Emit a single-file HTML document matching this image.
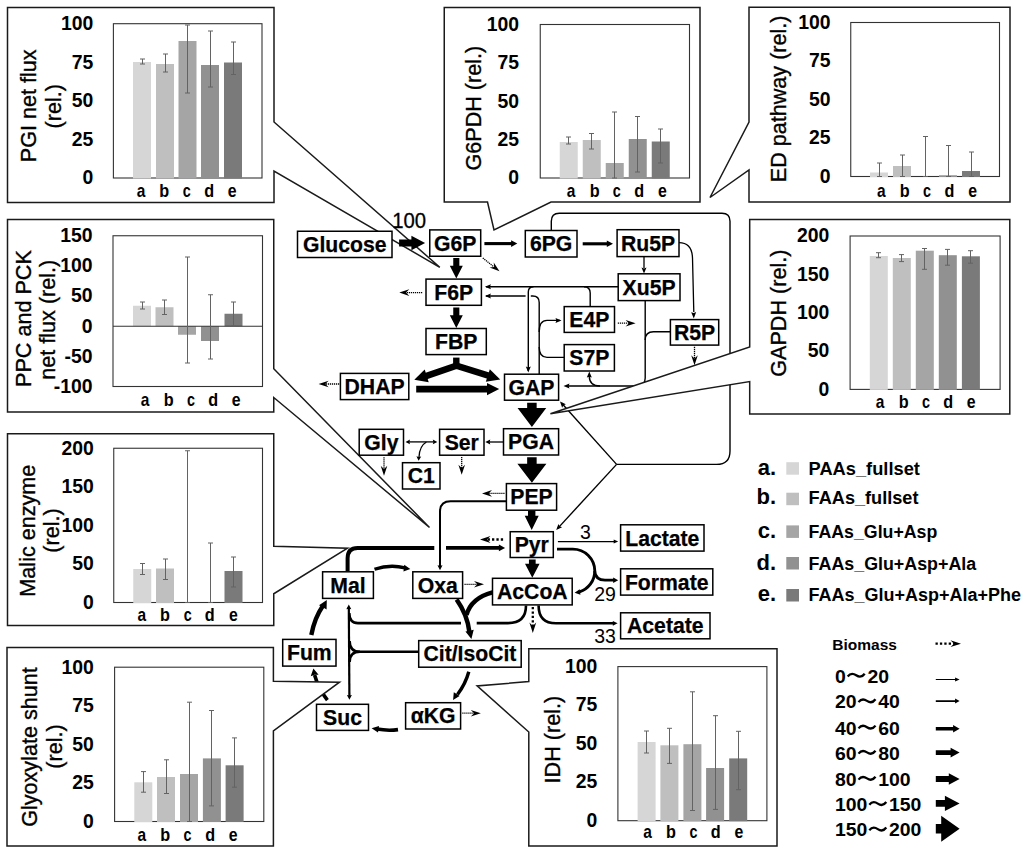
<!DOCTYPE html><html><head><meta charset="utf-8"><style>
html,body{margin:0;padding:0;background:#fff;}
svg{display:block;}
text{font-family:"Liberation Sans",sans-serif;}
.tk{font-weight:bold;font-size:19.4px;}
.cat{font-weight:bold;font-size:18px;}
.yl{font-size:21.6px;stroke:#000;stroke-width:0.35px;}
.bx{font-weight:bold;stroke:#000;stroke-width:0.25px;}
.num{font-size:19.5px;}
.lgl{font-weight:bold;font-size:22px;}
.lgt{font-weight:bold;font-size:18px;}
.bio{font-weight:bold;font-size:15.5px;}
.rng{font-weight:bold;font-size:19.2px;}
</style></head><body><svg width="1024" height="854" viewBox="0 0 1024 854">
<rect width="1024" height="854" fill="#fff"/>
<path d="M551.3,230.5 V221.2 Q551.3,213.2 559.3,213.2 H722 Q730,213.2 730,221.2 V451 Q730,464.4 716.6,464.4 H616.6" fill="none" stroke="#000" stroke-width="1.4" />
<path d="M616.6,464.4 L561.5,403" fill="none" stroke="#000" stroke-width="1.4" />
<polygon points="560,401.5 565.87,404.29 563.41,405.29 562.16,407.63" fill="#000"/>
<path d="M616.6,464.4 L557.5,528.6" fill="none" stroke="#000" stroke-width="1.4" />
<polygon points="556.2,530 558.42,523.89 559.65,526.25 562.1,527.28" fill="#000"/>
<path d="M618.2,286.7 H486" fill="none" stroke="#000" stroke-width="1.4" />
<polygon points="484.9,286.7 490.9,284.2 490,286.7 490.9,289.2" fill="#000"/>
<path d="M533.5,286.7 Q528.3,286.7 528.3,292 V371" fill="none" stroke="#000" stroke-width="1.4" />
<polygon points="528.3,372.5 525.8,366.5 528.3,367.4 530.8,366.5" fill="#000"/>
<path d="M584,286.7 Q590.2,286.7 590.2,293 V306.6" fill="none" stroke="#000" stroke-width="1.4" />
<path d="M539.2,374.2 V302.5 Q539.2,296 532.7,296 H530.8" fill="none" stroke="#000" stroke-width="1.4" />
<path d="M525.6,296 H486" fill="none" stroke="#000" stroke-width="1.4" />
<polygon points="484.9,296 490.9,293.5 490,296 490.9,298.5" fill="#000"/>
<path d="M539.2,332 Q539.2,320.4 547,320.4 H560" fill="none" stroke="#000" stroke-width="1.4" />
<polygon points="561.5,320.4 555.5,322.9 556.4,320.4 555.5,317.9" fill="#000"/>
<path d="M564.2,357.4 H547 Q539.2,357.4 539.2,347" fill="none" stroke="#000" stroke-width="1.4" />
<path d="M645.2,300.6 V378 Q645.2,386 637.2,386 H566" fill="none" stroke="#000" stroke-width="1.4" />
<polygon points="563.5,386 569.5,383.5 568.6,386 569.5,388.5" fill="#000"/>
<path d="M670.4,331.8 H653.5 Q645.2,331.8 645.2,340" fill="none" stroke="#000" stroke-width="1.4" />
<path d="M600,386 Q589.3,386 589.3,376" fill="none" stroke="#000" stroke-width="1.4" />
<polygon points="589.3,371.6 591.8,377.6 589.3,376.7 586.8,377.6" fill="#000"/>
<path d="M644,256.6 V268" fill="none" stroke="#000" stroke-width="1.3" />
<polygon points="644,273.5 641.5,267.5 644,268.4 646.5,267.5" fill="#000"/>
<path d="M679,242.6 Q692,242.6 692.5,258 L693.8,312" fill="none" stroke="#000" stroke-width="1.3" />
<polygon points="693.8,318.6 691.17,312.15 693.69,313.08 696.17,312.05" fill="#000"/>
<path d="M327.4,700.2 Q318.5,689 314.6,675" fill="none" stroke="#000" stroke-width="3.6" />
<polygon points="313.4,668.6 318.58,674.78 314.52,674.8 310.7,676.2" fill="#000"/>
<path d="M7.5,7.5 L274,7.5 L274,122 L439.8,267.3 L274,171 L274,202.5 L7.5,202.5 Z" fill="#fff" stroke="#1a1a1a" stroke-width="1.5" stroke-linejoin="miter"/>
<rect x="113.4" y="23.7" width="148.6" height="154.3" fill="none" stroke="#333333" stroke-width="1.1"/>
<rect x="133" y="62" width="18" height="116.5" fill="#d6d6d6"/>
<rect x="156" y="64" width="18" height="114.5" fill="#bfbfbf"/>
<rect x="178.5" y="41" width="18" height="137.5" fill="#a5a5a5"/>
<rect x="201" y="65" width="18" height="113.5" fill="#919191"/>
<rect x="224" y="62.5" width="18" height="116" fill="#7a7a7a"/>
<path d="M142.5,59 V64 M140,59 h5 M140,64 h5" stroke="#636363" stroke-width="1" fill="none"/>
<path d="M165.5,54 V72 M163,54 h5 M163,72 h5" stroke="#636363" stroke-width="1" fill="none"/>
<path d="M187.5,25 V93 M185,25 h5 M185,93 h5" stroke="#636363" stroke-width="1" fill="none"/>
<path d="M210.5,31 V87 M208,31 h5 M208,87 h5" stroke="#636363" stroke-width="1" fill="none"/>
<path d="M233.5,42 V74.5 M231,42 h5 M231,74.5 h5" stroke="#636363" stroke-width="1" fill="none"/>
<text x="93.3" y="30" text-anchor="end" class="tk">100</text>
<text x="93.3" y="68.58" text-anchor="end" class="tk">75</text>
<text x="93.3" y="107.15" text-anchor="end" class="tk">50</text>
<text x="93.3" y="145.73" text-anchor="end" class="tk">25</text>
<text x="93.3" y="184.3" text-anchor="end" class="tk">0</text>
<text transform="translate(141.05,197.1) scale(0.86,1)" text-anchor="middle" class="cat">a</text>
<text transform="translate(164.3,197.1) scale(0.9,1)" text-anchor="middle" class="cat">b</text>
<text transform="translate(186.8,197.1) scale(0.8,1)" text-anchor="middle" class="cat">c</text>
<text transform="translate(209.1,197.1) scale(0.9,1)" text-anchor="middle" class="cat">d</text>
<text transform="translate(232.2,197.1) scale(0.88,1)" text-anchor="middle" class="cat">e</text>
<text transform="translate(36,105.85) rotate(-90)" text-anchor="middle" class="yl">PGI net flux</text>
<text transform="translate(61.4,106.25) rotate(-90)" text-anchor="middle" class="yl">(rel.)</text>
<path d="M444.25,7.5 L700,7.5 L700,202 L551,202 L494,230 L487.5,202 L444.25,202 Z" fill="#fff" stroke="#1a1a1a" stroke-width="1.5" stroke-linejoin="miter"/>
<rect x="540.25" y="24.5" width="149.25" height="153.5" fill="none" stroke="#333333" stroke-width="1.1"/>
<rect x="559.75" y="142" width="18" height="36.5" fill="#d6d6d6"/>
<rect x="582.75" y="140" width="18" height="38.5" fill="#bfbfbf"/>
<rect x="605.75" y="163" width="18" height="15.5" fill="#a5a5a5"/>
<rect x="628.75" y="139" width="18" height="39.5" fill="#919191"/>
<rect x="651.75" y="141.5" width="18" height="37" fill="#7a7a7a"/>
<path d="M568.5,137 V144 M566,137 h5 M566,144 h5" stroke="#636363" stroke-width="1" fill="none"/>
<path d="M591.5,133.5 V149 M589,133.5 h5 M589,149 h5" stroke="#636363" stroke-width="1" fill="none"/>
<path d="M614.5,112 V178 M612,112 h5 M612,178 h5" stroke="#636363" stroke-width="1" fill="none"/>
<path d="M637.5,116.5 V172 M635,116.5 h5 M635,172 h5" stroke="#636363" stroke-width="1" fill="none"/>
<path d="M660.5,129 V163 M658,129 h5 M658,163 h5" stroke="#636363" stroke-width="1" fill="none"/>
<text x="519" y="30.8" text-anchor="end" class="tk">100</text>
<text x="519" y="69.17" text-anchor="end" class="tk">75</text>
<text x="519" y="107.55" text-anchor="end" class="tk">50</text>
<text x="519" y="145.93" text-anchor="end" class="tk">25</text>
<text x="519" y="184.3" text-anchor="end" class="tk">0</text>
<text transform="translate(571,197.1) scale(0.86,1)" text-anchor="middle" class="cat">a</text>
<text transform="translate(594.6,197.1) scale(0.9,1)" text-anchor="middle" class="cat">b</text>
<text transform="translate(616.8,197.1) scale(0.8,1)" text-anchor="middle" class="cat">c</text>
<text transform="translate(639.3,197.1) scale(0.9,1)" text-anchor="middle" class="cat">d</text>
<text transform="translate(662.3,197.1) scale(0.88,1)" text-anchor="middle" class="cat">e</text>
<text transform="translate(481.3,108.15) rotate(-90)" text-anchor="middle" class="yl">G6PDH (rel.)</text>
<path d="M749,7.2 L1010,7.2 L1010,202 L749,202 L749,170 L710,197.5 L749,122 Z" fill="#fff" stroke="#1a1a1a" stroke-width="1.5" stroke-linejoin="miter"/>
<rect x="850.75" y="22.5" width="148.75" height="154" fill="none" stroke="#333333" stroke-width="1.1"/>
<rect x="870" y="172.5" width="18" height="4.5" fill="#d6d6d6"/>
<rect x="893" y="166" width="18" height="11" fill="#bfbfbf"/>
<rect x="939" y="175.3" width="18" height="1.7" fill="#919191"/>
<rect x="962" y="171" width="18" height="6" fill="#7a7a7a"/>
<path d="M879.5,163 V176.5 M877,163 h5 M877,176.5 h5" stroke="#636363" stroke-width="1" fill="none"/>
<path d="M902.5,155 V176.5 M900,155 h5 M900,176.5 h5" stroke="#636363" stroke-width="1" fill="none"/>
<path d="M925.5,136.5 V176.5 M923,136.5 h5 M923,176.5 h5" stroke="#636363" stroke-width="1" fill="none"/>
<path d="M948.5,145.5 V176.5 M946,145.5 h5 M946,176.5 h5" stroke="#636363" stroke-width="1" fill="none"/>
<path d="M971.5,152 V176.5 M969,152 h5 M969,176.5 h5" stroke="#636363" stroke-width="1" fill="none"/>
<text x="830.5" y="28.8" text-anchor="end" class="tk">100</text>
<text x="830.5" y="67.3" text-anchor="end" class="tk">75</text>
<text x="830.5" y="105.8" text-anchor="end" class="tk">50</text>
<text x="830.5" y="144.3" text-anchor="end" class="tk">25</text>
<text x="830.5" y="182.8" text-anchor="end" class="tk">0</text>
<text transform="translate(881.4,197) scale(0.86,1)" text-anchor="middle" class="cat">a</text>
<text transform="translate(904.7,197) scale(0.9,1)" text-anchor="middle" class="cat">b</text>
<text transform="translate(927,197) scale(0.8,1)" text-anchor="middle" class="cat">c</text>
<text transform="translate(949.5,197) scale(0.9,1)" text-anchor="middle" class="cat">d</text>
<text transform="translate(972.6,197) scale(0.88,1)" text-anchor="middle" class="cat">e</text>
<text transform="translate(786.3,98.85) rotate(-90)" text-anchor="middle" class="yl">ED pathway (rel.)</text>
<path d="M7.5,219.5 L273.75,219.5 L273.75,368.75 L429.5,527.5 L273.75,397.5 L273.75,412 L7.5,412 Z" fill="#fff" stroke="#1a1a1a" stroke-width="1.5" stroke-linejoin="miter"/>
<rect x="113" y="235.75" width="149.5" height="150.75" fill="none" stroke="#333333" stroke-width="1.1"/>
<rect x="133" y="305.75" width="18" height="20.5" fill="#d6d6d6"/>
<rect x="155.5" y="307.25" width="18" height="19" fill="#bfbfbf"/>
<rect x="178" y="326.25" width="18" height="8.5" fill="#a5a5a5"/>
<rect x="201" y="326.25" width="18" height="14.75" fill="#919191"/>
<rect x="224.5" y="313.75" width="18" height="12.5" fill="#7a7a7a"/>
<line x1="113" y1="326.25" x2="262.5" y2="326.25" stroke="#333333" stroke-width="1.1"/>
<path d="M142.5,302 V309 M140,302 h5 M140,309 h5" stroke="#636363" stroke-width="1" fill="none"/>
<path d="M164.5,300 V314.5 M162,300 h5 M162,314.5 h5" stroke="#636363" stroke-width="1" fill="none"/>
<path d="M187.5,257 V363 M185,257 h5 M185,363 h5" stroke="#636363" stroke-width="1" fill="none"/>
<path d="M210.5,294.75 V359 M208,294.75 h5 M208,359 h5" stroke="#636363" stroke-width="1" fill="none"/>
<path d="M233.5,302 V326 M231,302 h5 M231,326 h5" stroke="#636363" stroke-width="1" fill="none"/>
<text x="92.5" y="242.05" text-anchor="end" class="tk">150</text>
<text x="92.5" y="272.2" text-anchor="end" class="tk">100</text>
<text x="92.5" y="302.35" text-anchor="end" class="tk">50</text>
<text x="92.5" y="332.5" text-anchor="end" class="tk">0</text>
<text x="92.5" y="362.65" text-anchor="end" class="tk">-50</text>
<text x="92.5" y="392.8" text-anchor="end" class="tk">-100</text>
<text transform="translate(145,406.4) scale(0.86,1)" text-anchor="middle" class="cat">a</text>
<text transform="translate(168.8,406.4) scale(0.9,1)" text-anchor="middle" class="cat">b</text>
<text transform="translate(191,406.4) scale(0.8,1)" text-anchor="middle" class="cat">c</text>
<text transform="translate(213.2,406.4) scale(0.9,1)" text-anchor="middle" class="cat">d</text>
<text transform="translate(236.2,406.4) scale(0.88,1)" text-anchor="middle" class="cat">e</text>
<text transform="translate(30.6,318.6) rotate(-90)" text-anchor="middle" class="yl">PPC and PCK</text>
<text transform="translate(55,319.7) rotate(-90)" text-anchor="middle" class="yl">net flux (rel.)</text>
<path d="M749.7,219.4 L1009.8,219.4 L1009.8,414.1 L749.7,414.1 L749.7,381.6 L550.4,413.8 L749.7,347 Z" fill="#fff" stroke="#1a1a1a" stroke-width="1.5" stroke-linejoin="miter"/>
<rect x="850.1" y="236" width="150" height="153.4" fill="none" stroke="#333333" stroke-width="1.1"/>
<rect x="869.8" y="256" width="18" height="133.9" fill="#d6d6d6"/>
<rect x="892.8" y="258" width="18" height="131.9" fill="#bfbfbf"/>
<rect x="915.8" y="250.7" width="18" height="139.2" fill="#a5a5a5"/>
<rect x="938.8" y="255.2" width="18" height="134.7" fill="#919191"/>
<rect x="961.9" y="256.3" width="18" height="133.6" fill="#7a7a7a"/>
<path d="M878.5,252.7 V257.7 M876,252.7 h5 M876,257.7 h5" stroke="#636363" stroke-width="1" fill="none"/>
<path d="M901.5,254.6 V261.6 M899,254.6 h5 M899,261.6 h5" stroke="#636363" stroke-width="1" fill="none"/>
<path d="M924.5,248.5 V269.3 M922,248.5 h5 M922,269.3 h5" stroke="#636363" stroke-width="1" fill="none"/>
<path d="M947.5,249.4 V265.2 M945,249.4 h5 M945,265.2 h5" stroke="#636363" stroke-width="1" fill="none"/>
<path d="M970.5,250.7 V263.2 M968,250.7 h5 M968,263.2 h5" stroke="#636363" stroke-width="1" fill="none"/>
<text x="829.3" y="242.3" text-anchor="end" class="tk">200</text>
<text x="829.3" y="280.65" text-anchor="end" class="tk">150</text>
<text x="829.3" y="319" text-anchor="end" class="tk">100</text>
<text x="829.3" y="357.35" text-anchor="end" class="tk">50</text>
<text x="829.3" y="395.7" text-anchor="end" class="tk">0</text>
<text transform="translate(880,407.9) scale(0.86,1)" text-anchor="middle" class="cat">a</text>
<text transform="translate(903.7,407.9) scale(0.9,1)" text-anchor="middle" class="cat">b</text>
<text transform="translate(926,407.9) scale(0.8,1)" text-anchor="middle" class="cat">c</text>
<text transform="translate(948.2,407.9) scale(0.9,1)" text-anchor="middle" class="cat">d</text>
<text transform="translate(971.2,407.9) scale(0.88,1)" text-anchor="middle" class="cat">e</text>
<text transform="translate(786.2,313.2) rotate(-90)" text-anchor="middle" class="yl">GAPDH (rel.)</text>
<path d="M7.5,433.75 L273.75,433.75 L273.75,546.25 L347.5,548.25 L273.75,593.75 L273.75,625.5 L7.5,625.5 Z" fill="#fff" stroke="#1a1a1a" stroke-width="1.5" stroke-linejoin="miter"/>
<rect x="113.75" y="448.25" width="148.75" height="154.25" fill="none" stroke="#333333" stroke-width="1.1"/>
<rect x="133.25" y="569" width="18" height="34" fill="#d6d6d6"/>
<rect x="156" y="568.5" width="18" height="34.5" fill="#bfbfbf"/>
<rect x="224.5" y="571" width="18" height="32" fill="#7a7a7a"/>
<path d="M142.5,563.5 V574.5 M140,563.5 h5 M140,574.5 h5" stroke="#636363" stroke-width="1" fill="none"/>
<path d="M165.5,559 V579.5 M163,559 h5 M163,579.5 h5" stroke="#636363" stroke-width="1" fill="none"/>
<path d="M187.5,450.75 V602.5 M185,450.75 h5 M185,602.5 h5" stroke="#636363" stroke-width="1" fill="none"/>
<path d="M210.5,543 V602.5 M208,543 h5 M208,602.5 h5" stroke="#636363" stroke-width="1" fill="none"/>
<path d="M233.5,557 V587 M231,557 h5 M231,587 h5" stroke="#636363" stroke-width="1" fill="none"/>
<text x="93.75" y="454.55" text-anchor="end" class="tk">200</text>
<text x="93.75" y="493.11" text-anchor="end" class="tk">150</text>
<text x="93.75" y="531.67" text-anchor="end" class="tk">100</text>
<text x="93.75" y="570.24" text-anchor="end" class="tk">50</text>
<text x="93.75" y="608.8" text-anchor="end" class="tk">0</text>
<text transform="translate(141.7,621.3) scale(0.86,1)" text-anchor="middle" class="cat">a</text>
<text transform="translate(165,621.3) scale(0.9,1)" text-anchor="middle" class="cat">b</text>
<text transform="translate(187.8,621.3) scale(0.8,1)" text-anchor="middle" class="cat">c</text>
<text transform="translate(209.8,621.3) scale(0.9,1)" text-anchor="middle" class="cat">d</text>
<text transform="translate(233.3,621.3) scale(0.88,1)" text-anchor="middle" class="cat">e</text>
<text transform="translate(34.6,530.65) rotate(-90)" text-anchor="middle" class="yl">Malic enzyme</text>
<text transform="translate(59.1,530.45) rotate(-90)" text-anchor="middle" class="yl">(rel.)</text>
<path d="M7,647.4 L273.4,647.4 L273.4,681.2 L339.5,682.2 L273.4,731 L273.4,846.1 L7,846.1 Z" fill="#fff" stroke="#1a1a1a" stroke-width="1.5" stroke-linejoin="miter"/>
<rect x="114.6" y="667.2" width="149.2" height="154.3" fill="none" stroke="#333333" stroke-width="1.1"/>
<rect x="134.3" y="782.3" width="18" height="39.7" fill="#d6d6d6"/>
<rect x="157" y="777" width="18" height="45" fill="#bfbfbf"/>
<rect x="180" y="774" width="18" height="48" fill="#a5a5a5"/>
<rect x="202.9" y="758.4" width="18" height="63.6" fill="#919191"/>
<rect x="225.6" y="765.3" width="18" height="56.7" fill="#7a7a7a"/>
<path d="M143.5,771.6 V792.2 M141,771.6 h5 M141,792.2 h5" stroke="#636363" stroke-width="1" fill="none"/>
<path d="M166.5,759.8 V793.5 M164,759.8 h5 M164,793.5 h5" stroke="#636363" stroke-width="1" fill="none"/>
<path d="M189.5,702.2 V821.5 M187,702.2 h5 M187,821.5 h5" stroke="#636363" stroke-width="1" fill="none"/>
<path d="M211.5,710.5 V805.9 M209,710.5 h5 M209,805.9 h5" stroke="#636363" stroke-width="1" fill="none"/>
<path d="M234.5,737.9 V787.2 M232,737.9 h5 M232,787.2 h5" stroke="#636363" stroke-width="1" fill="none"/>
<text x="93.75" y="673.5" text-anchor="end" class="tk">100</text>
<text x="93.75" y="712.08" text-anchor="end" class="tk">75</text>
<text x="93.75" y="750.65" text-anchor="end" class="tk">50</text>
<text x="93.75" y="789.22" text-anchor="end" class="tk">25</text>
<text x="93.75" y="827.8" text-anchor="end" class="tk">0</text>
<text transform="translate(141.7,840.7) scale(0.86,1)" text-anchor="middle" class="cat">a</text>
<text transform="translate(165.3,840.7) scale(0.9,1)" text-anchor="middle" class="cat">b</text>
<text transform="translate(187.6,840.7) scale(0.8,1)" text-anchor="middle" class="cat">c</text>
<text transform="translate(210.1,840.7) scale(0.9,1)" text-anchor="middle" class="cat">d</text>
<text transform="translate(233.2,840.7) scale(0.88,1)" text-anchor="middle" class="cat">e</text>
<text transform="translate(36.6,747.05) rotate(-90)" text-anchor="middle" class="yl">Glyoxylate shunt</text>
<text transform="translate(62,746.5) rotate(-90)" text-anchor="middle" class="yl">(rel.)</text>
<path d="M528.8,648.8 L777,648.8 L777,846 L528.8,846 L528.8,732 L477.1,685.9 L528.8,681.6 Z" fill="#fff" stroke="#1a1a1a" stroke-width="1.5" stroke-linejoin="miter"/>
<rect x="617.9" y="666.6" width="149" height="154.1" fill="none" stroke="#333333" stroke-width="1.1"/>
<rect x="637.6" y="742" width="18" height="79.2" fill="#d6d6d6"/>
<rect x="660.4" y="745.3" width="18" height="75.9" fill="#bfbfbf"/>
<rect x="683.4" y="744.2" width="18" height="77" fill="#a5a5a5"/>
<rect x="706.1" y="768" width="18" height="53.2" fill="#919191"/>
<rect x="729.2" y="758.4" width="18" height="62.8" fill="#7a7a7a"/>
<path d="M646.5,731 V753 M644,731 h5 M644,753 h5" stroke="#636363" stroke-width="1" fill="none"/>
<path d="M669.5,728.3 V763.4 M667,728.3 h5 M667,763.4 h5" stroke="#636363" stroke-width="1" fill="none"/>
<path d="M692.5,691.8 V810.5 M690,691.8 h5 M690,810.5 h5" stroke="#636363" stroke-width="1" fill="none"/>
<path d="M715.5,715.7 V809.4 M713,715.7 h5 M713,809.4 h5" stroke="#636363" stroke-width="1" fill="none"/>
<path d="M738.5,731.3 V789.7 M736,731.3 h5 M736,789.7 h5" stroke="#636363" stroke-width="1" fill="none"/>
<text x="597.3" y="672.9" text-anchor="end" class="tk">100</text>
<text x="597.3" y="711.42" text-anchor="end" class="tk">75</text>
<text x="597.3" y="749.95" text-anchor="end" class="tk">50</text>
<text x="597.3" y="788.48" text-anchor="end" class="tk">25</text>
<text x="597.3" y="827" text-anchor="end" class="tk">0</text>
<text transform="translate(647.6,838.3) scale(0.86,1)" text-anchor="middle" class="cat">a</text>
<text transform="translate(671,838.3) scale(0.9,1)" text-anchor="middle" class="cat">b</text>
<text transform="translate(693.6,838.3) scale(0.8,1)" text-anchor="middle" class="cat">c</text>
<text transform="translate(715.8,838.3) scale(0.9,1)" text-anchor="middle" class="cat">d</text>
<text transform="translate(739,838.3) scale(0.88,1)" text-anchor="middle" class="cat">e</text>
<text transform="translate(560.1,739.6) rotate(-90)" text-anchor="middle" class="yl">IDH (rel.)</text>
<rect x="297.5" y="231.25" width="94.5" height="26.25" fill="#fff" stroke="#000" stroke-width="1.5"/>
<text x="344.75" y="251.96" text-anchor="middle" class="bx" style="font-size:21.2px">Glucose</text>
<rect x="429.75" y="229.9" width="50.95" height="26.35" fill="#fff" stroke="#000" stroke-width="1.5"/>
<text x="455.23" y="250.66" text-anchor="middle" class="bx" style="font-size:21.2px">G6P</text>
<rect x="525.3" y="230.5" width="51.7" height="26.5" fill="#fff" stroke="#000" stroke-width="1.5"/>
<text x="551.15" y="251.34" text-anchor="middle" class="bx" style="font-size:21.2px">6PG</text>
<rect x="617.1" y="229.7" width="61.9" height="26.9" fill="#fff" stroke="#000" stroke-width="1.5"/>
<text x="648.05" y="250.74" text-anchor="middle" class="bx" style="font-size:21.2px">Ru5P</text>
<rect x="426" y="279.1" width="55.4" height="26.2" fill="#fff" stroke="#000" stroke-width="1.5"/>
<text x="453.7" y="299.79" text-anchor="middle" class="bx" style="font-size:21.2px">F6P</text>
<rect x="618.2" y="273.8" width="61.8" height="26.8" fill="#fff" stroke="#000" stroke-width="1.5"/>
<text x="649.1" y="294.79" text-anchor="middle" class="bx" style="font-size:21.2px">Xu5P</text>
<rect x="426" y="328.5" width="60.3" height="26.1" fill="#fff" stroke="#000" stroke-width="1.5"/>
<text x="456.15" y="349.14" text-anchor="middle" class="bx" style="font-size:21.2px">FBP</text>
<rect x="564.2" y="306.6" width="50.3" height="25.8" fill="#fff" stroke="#000" stroke-width="1.5"/>
<text x="589.35" y="327.09" text-anchor="middle" class="bx" style="font-size:21.2px">E4P</text>
<rect x="564.2" y="344.6" width="50.2" height="26.4" fill="#fff" stroke="#000" stroke-width="1.5"/>
<text x="589.3" y="365.39" text-anchor="middle" class="bx" style="font-size:21.2px">S7P</text>
<rect x="670.4" y="319.6" width="48.3" height="25.5" fill="#fff" stroke="#000" stroke-width="1.5"/>
<text x="694.55" y="339.94" text-anchor="middle" class="bx" style="font-size:21.2px">R5P</text>
<rect x="340.4" y="373.4" width="68.4" height="26.2" fill="#fff" stroke="#000" stroke-width="1.5"/>
<text x="374.6" y="394.09" text-anchor="middle" class="bx" style="font-size:21.2px">DHAP</text>
<rect x="504.5" y="374.2" width="54.1" height="26" fill="#fff" stroke="#000" stroke-width="1.5"/>
<text x="531.55" y="394.79" text-anchor="middle" class="bx" style="font-size:21.2px">GAP</text>
<rect x="359.2" y="429.3" width="44.3" height="25.9" fill="#fff" stroke="#000" stroke-width="1.5"/>
<text x="381.35" y="449.84" text-anchor="middle" class="bx" style="font-size:21.2px">Gly</text>
<rect x="439.6" y="429.3" width="44.4" height="25.9" fill="#fff" stroke="#000" stroke-width="1.5"/>
<text x="461.8" y="449.84" text-anchor="middle" class="bx" style="font-size:21.2px">Ser</text>
<rect x="503.5" y="428.7" width="55.1" height="26.3" fill="#fff" stroke="#000" stroke-width="1.5"/>
<text x="531.05" y="449.44" text-anchor="middle" class="bx" style="font-size:21.2px">PGA</text>
<rect x="402.5" y="462.7" width="37.5" height="26.3" fill="#fff" stroke="#000" stroke-width="1.5"/>
<text x="421.25" y="483.44" text-anchor="middle" class="bx" style="font-size:21.2px">C1</text>
<rect x="506.4" y="483.6" width="50.2" height="26.6" fill="#fff" stroke="#000" stroke-width="1.5"/>
<text x="531.5" y="504.49" text-anchor="middle" class="bx" style="font-size:21.2px">PEP</text>
<rect x="510.2" y="531.7" width="43.1" height="25.8" fill="#fff" stroke="#000" stroke-width="1.5"/>
<text x="531.75" y="552.19" text-anchor="middle" class="bx" style="font-size:21.2px">Pyr</text>
<rect x="620.6" y="524.8" width="83.4" height="26.3" fill="#fff" stroke="#000" stroke-width="1.5"/>
<text x="662.3" y="545.54" text-anchor="middle" class="bx" style="font-size:21.2px">Lactate</text>
<rect x="620.6" y="568.8" width="92.2" height="26.3" fill="#fff" stroke="#000" stroke-width="1.5"/>
<text x="666.7" y="589.54" text-anchor="middle" class="bx" style="font-size:21.2px">Formate</text>
<rect x="620.6" y="612.8" width="89.4" height="26" fill="#fff" stroke="#000" stroke-width="1.5"/>
<text x="665.3" y="633.39" text-anchor="middle" class="bx" style="font-size:21.2px">Acetate</text>
<rect x="322.6" y="571.8" width="50.8" height="26.6" fill="#fff" stroke="#000" stroke-width="1.5"/>
<text x="348" y="592.69" text-anchor="middle" class="bx" style="font-size:21.2px">Mal</text>
<rect x="412.8" y="571.8" width="49.8" height="26.6" fill="#fff" stroke="#000" stroke-width="1.5"/>
<text x="437.7" y="592.69" text-anchor="middle" class="bx" style="font-size:21.2px">Oxa</text>
<rect x="492.5" y="578.3" width="79.7" height="26.6" fill="#fff" stroke="#000" stroke-width="1.5"/>
<text x="532.35" y="599.19" text-anchor="middle" class="bx" style="font-size:21.2px">AcCoA</text>
<rect x="282.7" y="639.4" width="53.3" height="26.7" fill="#fff" stroke="#000" stroke-width="1.5"/>
<text x="309.35" y="660.34" text-anchor="middle" class="bx" style="font-size:21.2px">Fum</text>
<rect x="418.7" y="640.6" width="102.5" height="26.6" fill="#fff" stroke="#000" stroke-width="1.5"/>
<text x="469.95" y="661.49" text-anchor="middle" class="bx" style="font-size:21.2px">Cit/IsoCit</text>
<rect x="316.5" y="704.3" width="52" height="26.1" fill="#fff" stroke="#000" stroke-width="1.5"/>
<text x="342.5" y="724.94" text-anchor="middle" class="bx" style="font-size:21.2px">Suc</text>
<rect x="405.6" y="702.7" width="55" height="26.3" fill="#fff" stroke="#000" stroke-width="1.5"/>
<text x="433.1" y="723.44" text-anchor="middle" class="bx" style="font-size:21.2px">&#945;KG</text>
<polygon points="399.1,246.5 411.4,246.5 411.4,250.15 425.1,243 411.4,235.85 411.4,239.5 399.1,239.5" fill="#000"/>
<polygon points="453.25,258.1 453.25,265.8 449.8,265.8 456.3,278.5 462.8,265.8 459.35,265.8 459.35,258.1" fill="#000"/>
<polygon points="453.25,307.6 453.25,315.2 449.8,315.2 456.3,327.9 462.8,315.2 459.35,315.2 459.35,307.6" fill="#000"/>
<rect x="453.1" y="357.6" width="6.4" height="6.5" fill="#000"/>
<path d="M424.5,376.6 L456.4,365.6 L490,376.2" fill="none" stroke="#000" stroke-width="6.6" stroke-linejoin="miter"/>
<polygon points="414.3,379.8 424.69,369.57 426.69,375.86 428.69,382.15" fill="#000"/>
<polygon points="500.2,379.5 485.81,381.85 487.81,375.56 489.81,369.27" fill="#000"/>
<polygon points="416.2,392.4 487,392.4 487,395.3 499.2,389.1 487,382.9 487,385.8 416.2,385.8" fill="#000"/>
<polygon points="527.15,402.7 527.15,408 517.55,408 531.9,427 546.25,408 536.65,408 536.65,402.7" fill="#000"/>
<polygon points="527.15,457.2 527.15,463.8 517.4,463.8 531.9,482.8 546.4,463.8 536.65,463.8 536.65,457.2" fill="#000"/>
<polygon points="528,511 528,515.7 524.7,515.7 531.7,530 538.7,515.7 535.4,515.7 535.4,511" fill="#000"/>
<polygon points="528.95,559.4 528.95,563.8 525,563.8 532.3,577.8 539.6,563.8 535.65,563.8 535.65,559.4" fill="#000"/>
<path d="M484.4,243.6 H512" fill="none" stroke="#000" stroke-width="3.1" />
<polygon points="517.3,243.6 511.1,246.9 511.1,243.6 511.1,240.3" fill="#000"/>
<path d="M582.7,243.8 H608" fill="none" stroke="#000" stroke-width="3.1" />
<polygon points="613,243.8 606.8,247.1 606.8,243.8 606.8,240.5" fill="#000"/>
<path d="M503.5,442 H489" fill="none" stroke="#000" stroke-width="1.3" />
<polygon points="485.3,442 490.3,439.6 489.55,442 490.3,444.4" fill="#000"/>
<path d="M409,441.9 H434" fill="none" stroke="#000" stroke-width="1.3" />
<polygon points="437.3,441.9 432.8,444.3 433.48,441.9 432.8,439.5" fill="#000"/>
<polygon points="405.5,441.9 410,439.5 409.32,441.9 410,444.3" fill="#000"/>
<path d="M426.4,442 Q419.5,446 419,457" fill="none" stroke="#000" stroke-width="1.3" />
<polygon points="418.6,460.8 416.43,456.19 418.79,456.98 421.22,456.43" fill="#000"/>
<path d="M506.4,501.2 H450.5 Q440,501.2 440,511.7 V566" fill="none" stroke="#000" stroke-width="2" />
<polygon points="440,570.2 437.5,565.2 440,565.7 442.5,565.2" fill="#000"/>
<path d="M347.6,571 V558.3 Q347.6,547.9 357.7,547.9 H434.3" fill="none" stroke="#000" stroke-width="4" />
<path d="M446,547.9 H500" fill="none" stroke="#000" stroke-width="3.8" />
<polygon points="505.1,547.9 498.9,551.2 498.9,547.9 498.9,544.6" fill="#000"/>
<path d="M557.9,541.6 H614.5" fill="none" stroke="#000" stroke-width="1.2" />
<polygon points="618.2,541.6 613.7,543.6 613.7,541.6 613.7,539.6" fill="#000"/>
<path d="M557,549.1 H572.8 A22,22 0 0 1 594.8,571 A22,22 0 0 1 579.5,591.9" fill="none" stroke="#000" stroke-width="2.9" />
<polygon points="574.6,592.7 579.66,589.16 580.05,591.94 580.44,594.71" fill="#000"/>
<path d="M594.6,571 Q595.5,580.2 605,580.2 H614" fill="none" stroke="#000" stroke-width="2.8" />
<polygon points="618.2,580.2 613.2,582.9 613.2,580.2 613.2,577.5" fill="#000"/>
<path d="M538.6,605.5 Q538.6,623.3 556,623.3 H614" fill="none" stroke="#000" stroke-width="2.6" />
<polygon points="617.6,623.3 612.8,625.7 612.8,623.3 612.8,620.9" fill="#000"/>
<path d="M526,605.5 Q526,623.1 508,623.1 H476.7" fill="none" stroke="#000" stroke-width="2.6" />
<path d="M461,623.1 H358 Q349.3,623.1 349.3,613" fill="none" stroke="#000" stroke-width="2.6" />
<path d="M418.7,651.8 H360 Q349.6,651.8 349.6,641" fill="none" stroke="#000" stroke-width="2.6" />
<path d="M360,651.8 Q349.6,651.8 349.6,662" fill="none" stroke="#000" stroke-width="2.6" />
<path d="M348.8,607 L349.4,696" fill="none" stroke="#000" stroke-width="2.2" />
<polygon points="348.8,604.5 351.3,609.3 348.8,608.82 346.3,609.3" fill="#000"/>
<polygon points="349.4,699.8 346.9,695 349.4,695.48 351.9,695" fill="#000"/>
<path d="M456.6,599.5 Q467.5,615 469.4,632" fill="none" stroke="#000" stroke-width="4.5" />
<polygon points="471.4,639 465.42,631.61 469.57,630.7 473.72,629.79" fill="#000"/>
<path d="M492.5,592.3 Q471,598 466.5,615" fill="none" stroke="#000" stroke-width="4.5" />
<path d="M374.5,569.3 Q390,564 405,567.9" fill="none" stroke="#000" stroke-width="3.3" />
<polygon points="410.3,568.9 403.45,571.4 403.85,568.13 404.24,564.85" fill="#000"/>
<path d="M311.3,635 Q314.5,618 322.8,606" fill="none" stroke="#000" stroke-width="4.4" />
<polygon points="326.8,600.1 326.57,609.44 322.8,607.37 319.03,605.3" fill="#000"/>
<path d="M468.8,671.8 Q465.5,684 457.5,694.5" fill="none" stroke="#000" stroke-width="3.4" />
<polygon points="453.1,699.9 453.79,692.33 456.68,694.12 459.57,695.91" fill="#000"/>
<path d="M398,729.6 Q388,731 377,729.1" fill="none" stroke="#000" stroke-width="3.6" />
<polygon points="371.6,728.3 379.01,726.07 378.52,729.34 378.03,732.6" fill="#000"/>
<path d="M482.8,258 L494.79,267.48" stroke="#000" stroke-width="1.3" stroke-dasharray="1.2,0.8" fill="none"/>
<polygon points="499.5,271.2 489.61,267.59 494.24,267.05 493.7,262.41" fill="#000"/>
<path d="M422.2,292.6 L405.3,292.6" stroke="#000" stroke-width="1.3" stroke-dasharray="1.2,0.8" fill="none"/>
<polygon points="399.3,292.6 409.3,289.3 406,292.6 409.3,295.9" fill="#000"/>
<path d="M617.8,323.2 L629.6,323.2" stroke="#000" stroke-width="1.3" stroke-dasharray="1.2,0.8" fill="none"/>
<polygon points="635.6,323.2 625.6,326.5 628.9,323.2 625.6,319.9" fill="#000"/>
<path d="M694.5,346.8 L694.5,359.2" stroke="#000" stroke-width="1.3" stroke-dasharray="1.2,0.8" fill="none"/>
<polygon points="694.5,365.2 691.2,355.2 694.5,358.5 697.8,355.2" fill="#000"/>
<path d="M341,384 L324.6,384" stroke="#000" stroke-width="1.3" stroke-dasharray="1.2,0.8" fill="none"/>
<polygon points="318.6,384 328.6,380.7 325.3,384 328.6,387.3" fill="#000"/>
<path d="M384,457.2 L384,469.7" stroke="#000" stroke-width="1.3" stroke-dasharray="1.2,0.8" fill="none"/>
<polygon points="384,475.7 380.7,465.7 384,469 387.3,465.7" fill="#000"/>
<path d="M461.7,457 L461.7,468.8" stroke="#000" stroke-width="1.3" stroke-dasharray="1.2,0.8" fill="none"/>
<polygon points="461.7,474.8 458.4,464.8 461.7,468.1 465,464.8" fill="#000"/>
<path d="M504.5,493.4 L488,493.4" stroke="#000" stroke-width="1.3" stroke-dasharray="1.2,0.8" fill="none"/>
<polygon points="482,493.4 492,490.1 488.7,493.4 492,496.7" fill="#000"/>
<path d="M503.1,539.5 L486.3,539.5" stroke="#000" stroke-width="2.3" stroke-dasharray="2.3,2.1" fill="none"/>
<polygon points="480,539.5 490.5,536.1 487.04,539.5 490.5,542.9" fill="#000"/>
<path d="M464.5,584.3 L478,584.3" stroke="#000" stroke-width="1.3" stroke-dasharray="1.2,0.8" fill="none"/>
<polygon points="484,584.3 474,587.6 477.3,584.3 474,581" fill="#000"/>
<path d="M532.8,607 L532.8,626.7" stroke="#000" stroke-width="2.3" stroke-dasharray="2.3,2.1" fill="none"/>
<polygon points="532.8,633 529.4,622.5 532.8,625.97 536.2,622.5" fill="#000"/>
<path d="M462.3,713.2 L474.8,713.2" stroke="#000" stroke-width="1.3" stroke-dasharray="1.2,0.8" fill="none"/>
<polygon points="480.8,713.2 470.8,716.5 474.1,713.2 470.8,709.9" fill="#000"/>
<text transform="translate(409.1,228) scale(0.9,1)" text-anchor="middle" class="num" style="font-size:22.6px;stroke:#000;stroke-width:0.3px">100</text>
<text x="585.5" y="538.6" text-anchor="middle" class="num" >3</text>
<text x="605.1" y="601.3" text-anchor="middle" class="num" >29</text>
<text x="605.1" y="643" text-anchor="middle" class="num" >33</text>
<text x="776" y="475" text-anchor="end" class="lgl" >a.</text>
<rect x="786.3" y="462.2" width="12.7" height="12.5" fill="#d6d6d6"/>
<text x="808.6" y="475" text-anchor="start" class="lgt" textLength="111.3" lengthAdjust="spacingAndGlyphs">PAAs_fullset</text>
<text x="776" y="504.3" text-anchor="end" class="lgl" >b.</text>
<rect x="786.3" y="492.7" width="12.7" height="12.5" fill="#bfbfbf"/>
<text x="808.6" y="504.3" text-anchor="start" class="lgt" textLength="109.9" lengthAdjust="spacingAndGlyphs">FAAs_fullset</text>
<text x="776" y="537.9" text-anchor="end" class="lgl" >c.</text>
<rect x="786.3" y="525.4" width="12.7" height="12.5" fill="#a5a5a5"/>
<text x="808.6" y="537.9" text-anchor="start" class="lgt" textLength="128.7" lengthAdjust="spacingAndGlyphs">FAAs_Glu+Asp</text>
<text x="776" y="569.8" text-anchor="end" class="lgl" >d.</text>
<rect x="786.3" y="557" width="12.7" height="12.5" fill="#919191"/>
<text x="808.6" y="569.8" text-anchor="start" class="lgt" textLength="167.6" lengthAdjust="spacingAndGlyphs">FAAs_Glu+Asp+Ala</text>
<text x="776" y="601.4" text-anchor="end" class="lgl" >e.</text>
<rect x="786.3" y="589" width="12.7" height="12.5" fill="#7a7a7a"/>
<text x="808.6" y="601.4" text-anchor="start" class="lgt" textLength="212.4" lengthAdjust="spacingAndGlyphs">FAAs_Glu+Asp+Ala+Phe</text>
<text x="832.3" y="649.6" text-anchor="start" class="bio" >Biomass</text>
<path d="M935.5,643.7 L954.7,643.7" stroke="#000" stroke-width="2.3" stroke-dasharray="2.3,2.1" fill="none"/>
<polygon points="961,643.7 950.5,647.1 953.97,643.7 950.5,640.3" fill="#000"/>
<text x="835" y="682.6" class="rng" textLength="10.8" lengthAdjust="spacingAndGlyphs">0</text>
<path d="M847.7,676.5 c2.5,-3.2 5,-3.6 8.5,-1.2 s6,1.8 8.5,-1.6" fill="none" stroke="#000" stroke-width="2.3" stroke-linecap="butt"/>
<text x="867.4" y="682.6" class="rng" textLength="21.6" lengthAdjust="spacingAndGlyphs">20</text>
<polygon points="935.8,680 955.1,680 955.1,681.6 959.6,679.5 955.1,677.4 955.1,679 935.8,679" fill="#000"/>
<text x="835" y="708.2" class="rng" textLength="21.6" lengthAdjust="spacingAndGlyphs">20</text>
<path d="M858.5,702.1 c2.5,-3.2 5,-3.6 8.5,-1.2 s6,1.8 8.5,-1.6" fill="none" stroke="#000" stroke-width="2.3" stroke-linecap="butt"/>
<text x="878.2" y="708.2" class="rng" textLength="21.6" lengthAdjust="spacingAndGlyphs">40</text>
<polygon points="935.8,701.95 955.1,701.95 955.1,703.6 959.6,701.1 955.1,698.6 955.1,700.25 935.8,700.25" fill="#000"/>
<text x="835" y="734.5" class="rng" textLength="21.6" lengthAdjust="spacingAndGlyphs">40</text>
<path d="M858.5,728.4 c2.5,-3.2 5,-3.6 8.5,-1.2 s6,1.8 8.5,-1.6" fill="none" stroke="#000" stroke-width="2.3" stroke-linecap="butt"/>
<text x="878.2" y="734.5" class="rng" textLength="21.6" lengthAdjust="spacingAndGlyphs">60</text>
<polygon points="935.8,730.5 953.1,730.5 953.1,732.6 959.6,728.8 953.1,725 953.1,727.1 935.8,727.1" fill="#000"/>
<text x="835" y="759.7" class="rng" textLength="21.6" lengthAdjust="spacingAndGlyphs">60</text>
<path d="M858.5,753.6 c2.5,-3.2 5,-3.6 8.5,-1.2 s6,1.8 8.5,-1.6" fill="none" stroke="#000" stroke-width="2.3" stroke-linecap="butt"/>
<text x="878.2" y="759.7" class="rng" textLength="21.6" lengthAdjust="spacingAndGlyphs">80</text>
<polygon points="935.8,754.95 950.6,754.95 950.6,757.45 959.6,752.6 950.6,747.75 950.6,750.25 935.8,750.25" fill="#000"/>
<text x="835" y="785.7" class="rng" textLength="21.6" lengthAdjust="spacingAndGlyphs">80</text>
<path d="M858.5,779.6 c2.5,-3.2 5,-3.6 8.5,-1.2 s6,1.8 8.5,-1.6" fill="none" stroke="#000" stroke-width="2.3" stroke-linecap="butt"/>
<text x="878.2" y="785.7" class="rng" textLength="32.4" lengthAdjust="spacingAndGlyphs">100</text>
<polygon points="935.8,781.9 948.8,781.9 948.8,784.75 959.6,779 948.8,773.25 948.8,776.1 935.8,776.1" fill="#000"/>
<text x="835" y="810.9" class="rng" textLength="32.4" lengthAdjust="spacingAndGlyphs">100</text>
<path d="M869.3,804.8 c2.5,-3.2 5,-3.6 8.5,-1.2 s6,1.8 8.5,-1.6" fill="none" stroke="#000" stroke-width="2.3" stroke-linecap="butt"/>
<text x="889" y="810.9" class="rng" textLength="32.4" lengthAdjust="spacingAndGlyphs">150</text>
<polygon points="935.8,806.8 944.9,806.8 944.9,810.95 959.6,803.4 944.9,795.85 944.9,800 935.8,800" fill="#000"/>
<text x="835" y="836.4" class="rng" textLength="32.4" lengthAdjust="spacingAndGlyphs">150</text>
<path d="M869.3,830.3 c2.5,-3.2 5,-3.6 8.5,-1.2 s6,1.8 8.5,-1.6" fill="none" stroke="#000" stroke-width="2.3" stroke-linecap="butt"/>
<text x="889" y="836.4" class="rng" textLength="32.4" lengthAdjust="spacingAndGlyphs">200</text>
<polygon points="935.8,833.6 941.2,833.6 941.2,841.8 959.6,828.8 941.2,815.8 941.2,824 935.8,824" fill="#000"/>
</svg></body></html>
